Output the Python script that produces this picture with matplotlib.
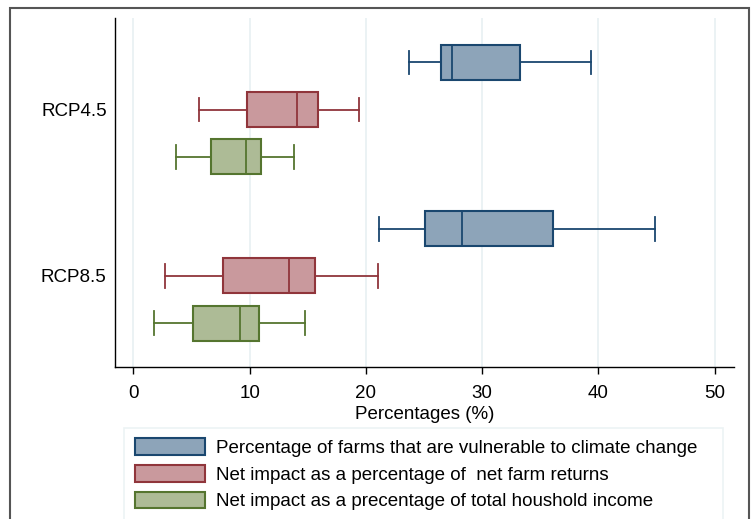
#!/usr/bin/env python3
"""Box plots of climate impact percentages under RCP4.5 and RCP8.5 (Stata look)."""

import matplotlib
matplotlib.use('Agg')
import matplotlib.pyplot as plt
from matplotlib.patches import Patch, Rectangle

# ── Data ──────────────────────────────────────────────────────────
scenarios = ["RCP4.5", "RCP8.5"]
series = [
    "Percentage of farms that are vulnerable to climate change",
    "Net impact as a percentage of  net farm returns",
    "Net impact as a precentage of total houshold income",
]
# whisker low, Q1, median, Q3, whisker high — per scenario, per series
rcp45_lo  = [23.7, 5.6, 3.7]
rcp45_q1  = [26.5, 9.8, 6.7]
rcp45_med = [27.4, 14.1, 9.7]
rcp45_q3  = [33.3, 15.9, 11.0]
rcp45_hi  = [39.4, 19.4, 13.8]

rcp85_lo  = [21.1, 2.7, 1.75]
rcp85_q1  = [25.1, 7.7, 5.1]
rcp85_med = [28.3, 13.4, 9.2]
rcp85_q3  = [36.1, 15.6, 10.8]
rcp85_hi  = [44.9, 21.0, 14.8]

x_ticks = [0, 10, 20, 30, 40, 50]

# ── Style ─────────────────────────────────────────────────────────
plt.rcParams.update({
    "font.family": ["Liberation Sans", "DejaVu Sans"],
    "font.size": 13.5,
})

edge_cols = ["#1A476F", "#90353B", "#55752F"]
fill_cols = ["#8DA4B9", "#C9999D", "#ADBB96"]
grid_col = "#E8F0F2"

fig = plt.figure(figsize=(7.56, 5.19), dpi=100)
ax = fig.add_axes([115 / 756, 1 - 366.7 / 519, (733.7 - 115) / 756, (366.7 - 18) / 519])

group_pos = [0.0, 3.52]
all_stats = [
    (rcp45_lo, rcp45_q1, rcp45_med, rcp45_q3, rcp45_hi),
    (rcp85_lo, rcp85_q1, rcp85_med, rcp85_q3, rcp85_hi),
]

for g, (lo, q1, med, q3, hi) in enumerate(all_stats):
    for i in range(len(series)):
        st = [dict(whislo=lo[i], q1=q1[i], med=med[i], q3=q3[i], whishi=hi[i],
                   fliers=[], label=series[i])]
        ec = edge_cols[i]
        ax.bxp(st, positions=[group_pos[g] + i], widths=0.74, capwidths=0.5,
               orientation="horizontal", patch_artist=True, showfliers=False,
               boxprops=dict(facecolor=fill_cols[i], edgecolor=ec, linewidth=1.5),
               medianprops=dict(color=ec, linewidth=1.3),
               whiskerprops=dict(color=ec, linewidth=1.3),
               capprops=dict(color=ec, linewidth=1.3),
               manage_ticks=False, zorder=3)

ax.set_xlim(-1.59, 51.65)
ax.set_ylim(6.44, -0.94)
ax.set_xticks(x_ticks)
ax.set_yticks([group_pos[0] + 1, group_pos[1] + 1])
ax.set_yticklabels(scenarios)
ax.tick_params(axis="y", length=0, pad=6)
ax.tick_params(axis="x", length=5, width=1, pad=8)
ax.xaxis.grid(True, color=grid_col, linewidth=1.2, zorder=0)
ax.set_axisbelow(True)
for s in ["top", "right"]:
    ax.spines[s].set_visible(False)
for s in ["left", "bottom"]:
    ax.spines[s].set_linewidth(1.0)
ax.set_xlabel("Percentages (%)", labelpad=3)

# ── Legend ────────────────────────────────────────────────────────
handles = [Patch(facecolor=fill_cols[i], edgecolor=edge_cols[i], linewidth=1.5,
                 label=series[i]) for i in range(len(series))]
leg = fig.legend(handles=handles, loc="upper left",
                 bbox_to_anchor=(124.3 / 756, 1 - 428 / 519, (722.7 - 124.3) / 756, 0.0),
                 mode="expand", frameon=True, fancybox=False,
                 handlelength=3.75, handleheight=1.0, handletextpad=0.6,
                 labelspacing=0.42, borderpad=0.55, borderaxespad=0.0)
leg.get_frame().set_edgecolor(grid_col)
leg.get_frame().set_linewidth(1.2)

# outer graph-region frame (cropped at the bottom in the reference)
fig.patches.append(Rectangle((10 / 756, -0.05), (749 - 10) / 756, 1.05 - 7.5 / 519,
                             transform=fig.transFigure, fill=False,
                             edgecolor="#555555", linewidth=1.5))

fig.savefig("out.png", dpi=100)
